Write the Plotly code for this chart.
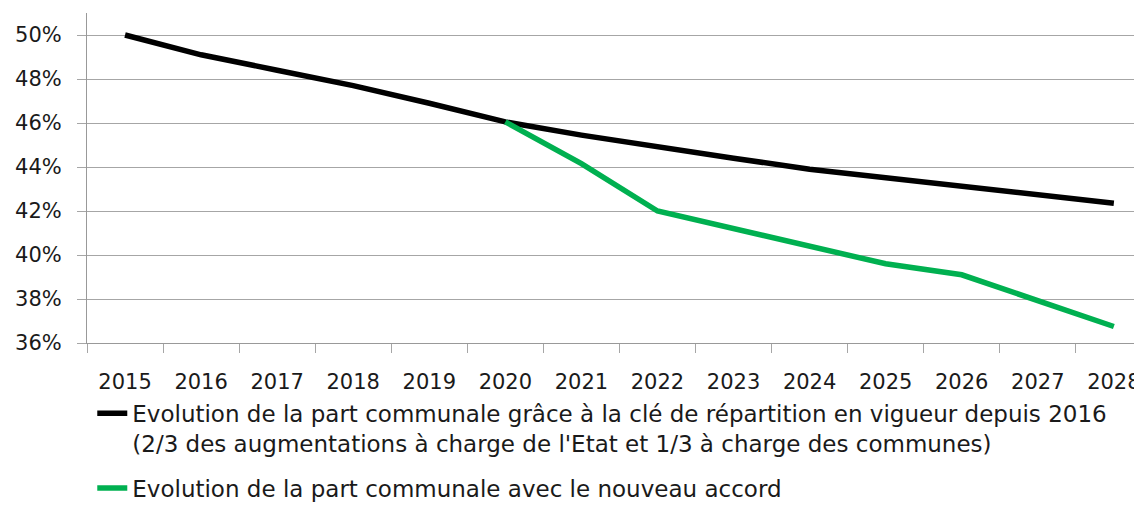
import plotly.graph_objects as go

years = ["2015", "2016", "2017", "2018", "2019", "2020", "2021",
         "2022", "2023", "2024", "2025", "2026", "2027", "2028"]
part_cle_actuelle = [50.0, 49.1, 48.4, 47.7, 46.9, 46.05, 45.45,
                     44.9, 44.4, 43.9, 43.5, 43.1, 42.7, 42.35]
part_nouvel_accord = [None, None, None, None, None, 46.05, 44.15,
                      42.0, 41.2, 40.45, 39.6, 39.1, 37.9, 36.75]

name_black = ("Evolution de la part communale grâce à la clé de répartition en vigueur depuis 2016"
              "<br>(2/3 des augmentations à charge de l'Etat et 1/3 à charge des communes)")
name_green = "Evolution de la part communale avec le nouveau accord"

FONT = "DejaVu Sans"
W, H = 1142, 507
# the page body adds an 8px offset, so the figure's own coordinates are shifted by -8
L, R, T, B = 79, 8, 5, 172

fig = go.Figure()
fig.add_trace(go.Scatter(x=years, y=part_cle_actuelle, mode="lines", name=name_black,
                         line=dict(color="#000000", width=5.5), legendgroup="a"))
fig.add_trace(go.Scatter(x=years, y=part_nouvel_accord, mode="lines", name=name_green,
                         line=dict(color="#00B050", width=5.5), legendgroup="b"))

fig.update_layout(
    template="none",
    width=W, height=H,
    margin=dict(l=L, r=R, t=T, b=B, pad=0, autoexpand=False),
    paper_bgcolor="white", plot_bgcolor="white",
    font=dict(family=FONT, size=21, color="#1a1a1a"),
    showlegend=True,
    legend=dict(
        x=0.005, y=-0.148, xanchor="left", yanchor="top",
        orientation="v", traceorder="grouped", tracegroupgap=12,
        valign="top", bgcolor="rgba(0,0,0,0)", borderwidth=0,
        font=dict(family=FONT, size=23, color="#1a1a1a"),
        itemwidth=30,
    ),
)

fig.update_xaxes(
    type="category", range=[-0.5, 13.37], automargin=False,
    tickson="boundaries", ticks="outside", ticklen=9, tickcolor="#a6a6a6", tickwidth=1,
    showgrid=False, showline=True, linecolor="#999999", linewidth=1,
    ticklabelstandoff=20, zeroline=False,
)
fig.update_yaxes(
    range=[36, 51], tick0=36, dtick=2, ticksuffix="%", automargin=False,
    showgrid=True, gridcolor="#a6a6a6", gridwidth=1,
    ticks="outside", ticklen=9, tickcolor="#a6a6a6", tickwidth=1,
    showline=True, linecolor="#999999", linewidth=1,
    zeroline=False, ticklabelstandoff=11,
)

fig.write_html("out.html")
